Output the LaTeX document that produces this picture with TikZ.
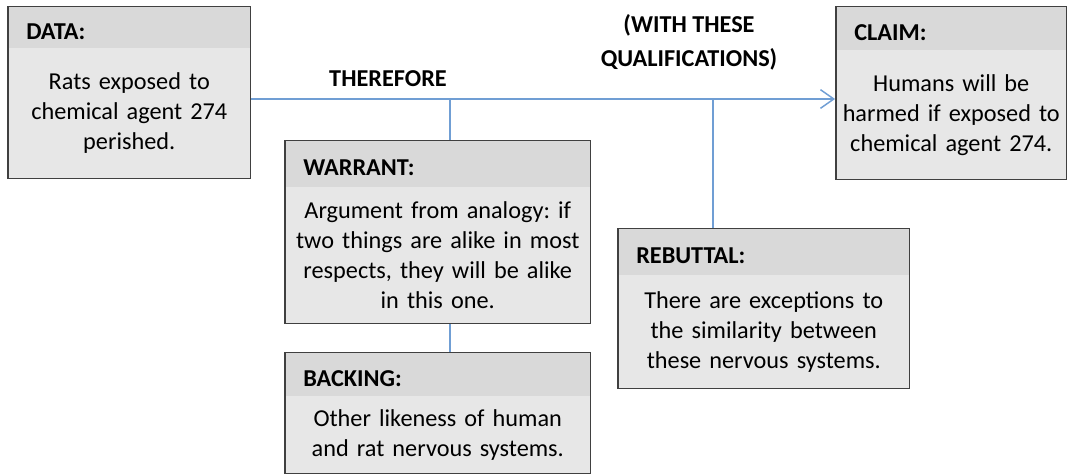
\documentclass[tikz,border=0pt]{standalone}
\usepackage{fontspec}
\setmainfont{Carlito}
\usepackage{xcolor}
\usepackage{tikz}
\usetikzlibrary{fit,arrows.meta}

\newdimen\pxu
\pxu=0.75pt
\definecolor{headgray}{RGB}{217,217,217}
\definecolor{bodygray}{RGB}{231,231,231}
\definecolor{framegray}{RGB}{64,64,64}
\definecolor{flowblue}{RGB}{112,158,212}

\tikzset{
  head/.style={fill=headgray, inner xsep=18\pxu, inner ysep=0pt, text height=24\pxu, text depth=0pt, align=left, font=\bfseries, anchor=south west},
  body/.style={fill=bodygray, inner xsep=4\pxu, inner ysep=0pt, align=center, anchor=north west},
  frame/.style={draw=framegray, line width=1.4pt, inner sep=0pt},
  flow/.style={draw=flowblue, line width=1.1pt},
  lbl/.style={font=\bfseries\fontsize{18.2}{25.5}\selectfont, align=center, inner sep=0.75pt}
}

\begin{document}
\begin{tikzpicture}[x=0.75pt,y=0.75pt,yscale=-1,xscale=1]
\fontsize{18.2}{22.5}\selectfont\frenchspacing
\useasboundingbox (0,0) rectangle (1070,474);

%Data box
\node[body, text width=234\pxu, minimum height=130\pxu] (data) at (8,48) {Rats exposed to\\chemical agent 274\\perished.};
\node[head, text width=206\pxu, minimum height=41\pxu] (datahead) at (data.north west) {DATA:};
\node[frame, fit=(datahead)(data)] (databox) {};

%Claim box
\node[body, text width=222\pxu, minimum height=129\pxu] (claim) at (836,50) {Humans will be\\harmed if exposed to\\chemical agent 274.};
\node[head, text width=194\pxu, minimum height=43\pxu] (claimhead) at (claim.north west) {CLAIM:};
\node[frame, fit=(claimhead)(claim)] (claimbox) {};

%Warrant box
\node[body, text width=297\pxu, minimum height=136\pxu] (warrant) at (285,187) {Argument from analogy: if\\two things are alike in most\\respects, they will be alike\\in this one.};
\node[head, text width=269\pxu, minimum height=46\pxu] (warranthead) at (warrant.north west) {WARRANT:};
\node[frame, fit=(warranthead)(warrant)] (warrantbox) {};

%Backing box
\node[body, text width=297\pxu, minimum height=77\pxu] (backing) at (285,396) {Other likeness of human\\and rat nervous systems.};
\node[head, text width=269\pxu, minimum height=43\pxu] (backinghead) at (backing.north west) {BACKING:};
\node[frame, fit=(backinghead)(backing)] (backingbox) {};

%Rebuttal box
\node[body, text width=283\pxu, minimum height=113\pxu] (rebuttal) at (618,275) {There are exceptions to\\the similarity between\\these nervous systems.};
\node[head, text width=255\pxu, minimum height=46\pxu] (rebuttalhead) at (rebuttal.north west) {REBUTTAL:};
\node[frame, fit=(rebuttalhead)(rebuttal)] (rebuttalbox) {};

%Straight Lines
\coordinate (therefore) at (450,99);
\coordinate (qual) at (713,99);
\draw[flow, -{Straight Barb[length=10pt,width=14pt]}] (databox.east |- therefore) -- (claimbox.west |- therefore);
\draw[flow] (therefore) -- (therefore |- warrantbox.north);
\draw[flow] (therefore |- warrantbox.south) -- (therefore |- backingbox.north);
\draw[flow] (qual) -- (qual |- rebuttalbox.north);

% Text Node
\node[lbl] (thereforelbl) at (388,79) {THEREFORE};
% Text Node
\node[lbl, text depth=0pt] (quallbl) at (689,40.5) {(WITH THESE\\QUALIFICATIONS)};

\end{tikzpicture}
\end{document}
